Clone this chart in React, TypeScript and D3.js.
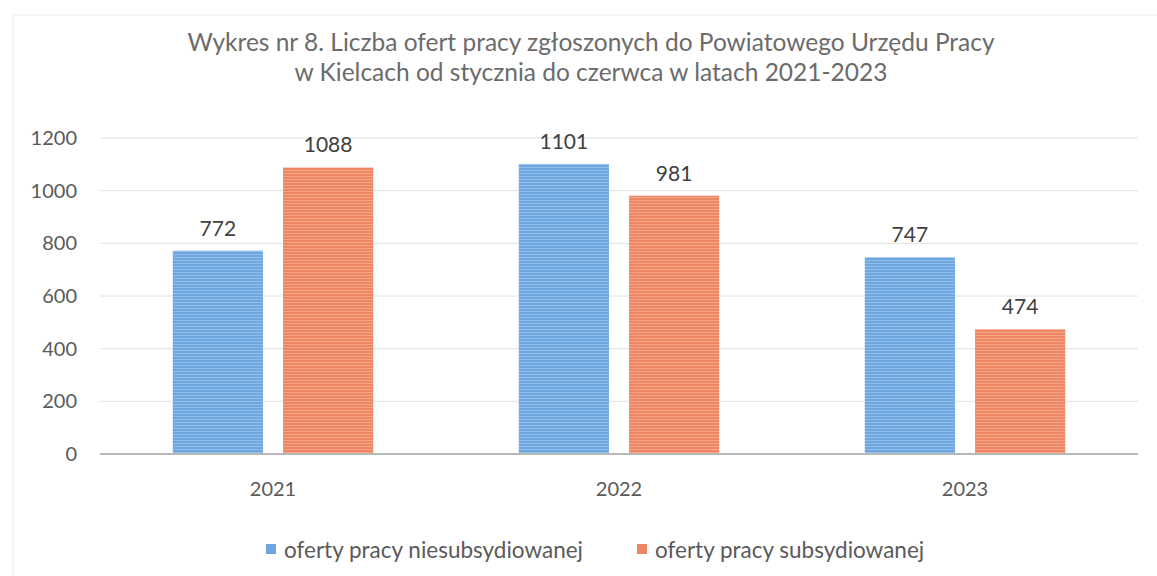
import React from "react";
import * as d3 from "d3";

const titleLines = [
  "Wykres nr 8. Liczba ofert pracy zgłoszonych do Powiatowego Urzędu Pracy",
  "w Kielcach od stycznia do czerwca w latach 2021-2023",
];
const years = ["2021", "2022", "2023"];
const seriesNames = ["oferty pracy niesubsydiowanej", "oferty pracy subsydiowanej"];
const niesubsydiowane = [772, 1101, 747];
const subsydiowane = [1088, 981, 474];
const yTicks = [0, 200, 400, 600, 800, 1000, 1200];
const colors = ["#6ea7e0", "#ee8664"];
const stripeColors = ["#9cc4ec", "#f5ae95"];

const W = 1157;
const H = 576;
const margin = { left: 100, right: 19, top: 138, bottom: 122 };
const FONT = "Lato, 'Open Sans', sans-serif";

export default function App() {
  const plotW = W - margin.left - margin.right;
  const plotH = H - margin.top - margin.bottom;
  const x0 = d3.scaleBand<string>().domain(years).range([margin.left, margin.left + plotW]).padding(0);
  const x1 = d3
    .scaleBand<string>()
    .domain(seriesNames)
    .range([0, x0.bandwidth()])
    .paddingInner(0.1818)
    .paddingOuter(0.66);
  const y = d3.scaleLinear().domain([0, 1200]).range([margin.top + plotH, margin.top]);
  const data = [niesubsydiowane, subsydiowane];

  return (
    <svg width={W} height={H} style={{ position: "absolute", left: 0, top: 0, background: "#fff" }}>
      <defs>
        {colors.map((c, i) => (
          <pattern key={i} id={`stripe${i}`} width={6} height={3} patternUnits="userSpaceOnUse">
            <rect width={6} height={3} fill={c} />
            <rect y={2} width={6} height={1} fill={stripeColors[i]} opacity={0.8} />
          </pattern>
        ))}
      </defs>
      <rect x={0} y={0} width={W} height={H} fill="#fff" />
      <line x1={13} x2={W} y1={15} y2={15} stroke="#ececec" strokeWidth={1} />
      <line x1={13} x2={13} y1={15} y2={H} stroke="#ececec" strokeWidth={1} />
      <g fontFamily={FONT} fill="#6b6b6b" fontSize={24.5} textAnchor="middle">
        {titleLines.map((t, i) => (
          <text key={i} x={591} y={51 + i * 30}>
            {t}
          </text>
        ))}
      </g>
      {yTicks.map((t) => (
        <g key={t}>
          {t > 0 && (
            <line
              x1={margin.left}
              x2={margin.left + plotW}
              y1={y(t)}
              y2={y(t)}
              stroke="#e0e0e0"
              strokeWidth={1}
            />
          )}
          <text
            x={77}
            y={y(t)}
            dy="0.35em"
            textAnchor="end"
            fontFamily={FONT}
            fontSize={20}
            fill="#5a5a5a"
          >
            {t}
          </text>
        </g>
      ))}
      {years.map((yr, yi) => (
        <g key={yr}>
          {seriesNames.map((s, si) => {
            const v = data[si][yi];
            const bx = (x0(yr) as number) + (x1(s) as number);
            return (
              <g key={s}>
                <rect
                  x={bx}
                  y={y(v)}
                  width={x1.bandwidth()}
                  height={y(0) - y(v)}
                  fill={`url(#stripe${si})`}
                />
                <text
                  x={bx + x1.bandwidth() / 2}
                  y={y(v) - 15}
                  textAnchor="middle"
                  fontFamily={FONT}
                  fontSize={21}
                  fill="#404040"
                >
                  {v}
                </text>
              </g>
            );
          })}
          <text
            x={(x0(yr) as number) + x0.bandwidth() / 2}
            y={496}
            textAnchor="middle"
            fontFamily={FONT}
            fontSize={20}
            fill="#5a5a5a"
          >
            {yr}
          </text>
        </g>
      ))}
      <line
        x1={margin.left}
        x2={margin.left + plotW}
        y1={y(0)}
        y2={y(0)}
        stroke="#b8b8b8"
        strokeWidth={2}
      />
      <g fontFamily={FONT} fontSize={22.5} fill="#5a5a5a">
        {seriesNames.map((s, i) => {
          const lx = i === 0 ? 266 : 637;
          return (
            <g key={s}>
              <rect x={lx} y={544} width={10} height={10} fill={colors[i]} />
              <text x={lx + 18} y={558}>
                {s}
              </text>
            </g>
          );
        })}
      </g>
    </svg>
  );
}
